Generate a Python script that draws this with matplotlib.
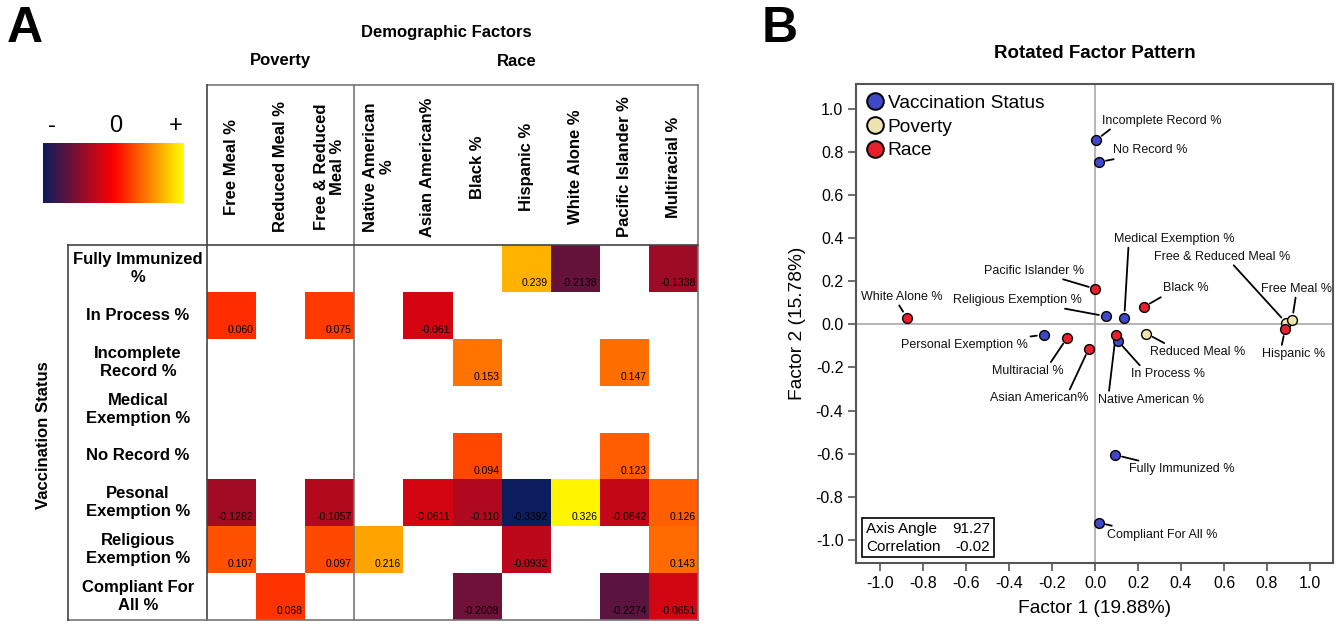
import numpy as np
import matplotlib
matplotlib.use('Agg')
import matplotlib.pyplot as plt
from matplotlib.colors import LinearSegmentedColormap
from matplotlib.lines import Line2D
from matplotlib.patches import Rectangle

plt.rcParams['font.family'] = ['Liberation Sans', 'DejaVu Sans']

# ---------------- data: panel A ----------------
columns = ['Free Meal %', 'Reduced Meal %', 'Free & Reduced\nMeal %',
           'Native American\n%', 'Asian American%', 'Black %', 'Hispanic %',
           'White Alone %', 'Pacific Islander %', 'Multiracial %']
rows = ['Fully Immunized\n%', 'In Process %', 'Incomplete\nRecord %',
        'Medical\nExemption %', 'No Record %', 'Pesonal\nExemption %',
        'Religious\nExemption %', 'Compliant For\nAll %']
cell_text = [
    [None, None, None, None, None, None, '0.239', '-0.2138', None, '-0.1338'],
    ['0.060', None, '0.075', None, '-0.061', None, None, None, None, None],
    [None, None, None, None, None, '0.153', None, None, '0.147', None],
    [None, None, None, None, None, None, None, None, None, None],
    [None, None, None, None, None, '0.094', None, None, '0.123', None],
    ['-0.1282', None, '-0.1057', None, '-0.0611', '-0.110', '-0.3392', '0.326', '-0.0842', '0.126'],
    ['0.107', None, '0.097', '0.216', None, None, '-0.0932', None, None, '0.143'],
    [None, '0.068', None, None, None, '-0.2008', None, None, '-0.2274', '-0.0651'],
]

# ---------------- data: panel B ----------------
names = ['Incomplete Record %', 'No Record %', 'Medical Exemption %',
         'Free & Reduced Meal %', 'Free Meal %', 'Pacific Islander %', 'Black %',
         'White Alone %', 'Religious Exemption %', 'Personal Exemption %',
         'Reduced Meal %', 'Hispanic %', 'Multiracial %', 'In Process %',
         'Asian American%', 'Native American %', 'Fully Immunized %',
         'Compliant For All %']
factor1 = [0.005, 0.019, 0.136, 0.888, 0.917, 0.002, 0.227, -0.876, 0.050,
           -0.239, 0.239, 0.884, -0.130, 0.105, -0.029, 0.096, 0.094, 0.019]
factor2 = [0.854, 0.752, 0.031, 0.008, 0.022, 0.164, 0.080, 0.031, 0.037,
           -0.049, -0.043, -0.023, -0.063, -0.076, -0.113, -0.052, -0.606, -0.920]
groups = ['Vaccination Status', 'Vaccination Status', 'Vaccination Status',
          'Poverty', 'Poverty', 'Race', 'Race', 'Race', 'Vaccination Status',
          'Vaccination Status', 'Poverty', 'Race', 'Race', 'Vaccination Status',
          'Race', 'Race', 'Vaccination Status', 'Vaccination Status']
group_order = ['Vaccination Status', 'Poverty', 'Race']
group_colors = {'Vaccination Status': '#4048c8', 'Poverty': '#efe4b0', 'Race': '#e8202a'}
# label placement (layout): text position in data units and leader anchor on the text
label_pos = [(0.309, 0.944), (0.256, 0.806), (0.369, 0.396), (0.589, 0.314),
             (0.935, 0.164), (-0.285, 0.249), (0.424, 0.166), (-0.900, 0.128),
             (-0.359, 0.113), (-0.608, -0.097), (0.479, -0.128), (0.925, -0.136),
             (-0.314, -0.216), (0.340, -0.231), (-0.261, -0.343), (0.261, -0.349),
             (0.402, -0.673), (0.311, -0.975)]
label_rel = [(0.1, 0), (0.2, 0), (0.12, 0), (0.57, 0), (0.5, 0), (0.7, 0), (0.05, 0),
             (0.45, 0), (0.75, 0), (0.85, 1), (0.2, 1), (0.3, 1), (0.8, 1), (0.15, 1),
             (0.8, 1), (0.1, 1), (0.2, 1), (0.15, 1)]
axis_angle = '91.27'
correlation = '-0.02'

# ---------------- figure ----------------
W, H = 1339, 626
fig = plt.figure(figsize=(W / 100, H / 100), dpi=100)


def P(x, y):
    return (x / W, 1 - y / H)


def fline(x0, y0, x1, y1, color='#444444', lw=1.2):
    (a, b), (c, d) = P(x0, y0), P(x1, y1)
    fig.add_artist(Line2D([a, c], [b, d], color=color, lw=lw, transform=fig.transFigure))


cmap = LinearSegmentedColormap.from_list('bry', ['#0b1d5e', '#ff0000', '#ffff00'])
vmin, vmax = -0.34, 0.34

# ---------------- panel A ----------------
fig.text(*P(25, 29), 'A', fontsize=36, fontweight='bold', ha='center', va='center')
fig.text(*P(446, 32), 'Demographic Factors', fontsize=12, fontweight='bold', ha='center', va='center')
fig.text(*P(280, 61), 'Poverty', fontsize=12, fontweight='bold', ha='center', va='center')
fig.text(*P(517, 61), 'Race', fontsize=12, fontweight='bold', ha='center', va='center')

x0, x1, ytop, y0, y1 = 207, 698, 85, 245, 620
ncol, nrow = len(columns), len(rows)
cw, ch = (x1 - x0) / ncol, (y1 - y0) / nrow

axA = fig.add_axes([x0 / W, (H - y1) / H, (x1 - x0) / W, (y1 - y0) / H])
vals = np.array([[np.nan if v is None else float(v) for v in r] for r in cell_text])
axA.pcolormesh(np.ma.masked_invalid(vals), cmap=cmap, vmin=vmin, vmax=vmax)
for i, r in enumerate(cell_text):
    for j, s in enumerate(r):
        if s is not None:
            axA.text(j + 0.95, i + 0.92, s, ha='right', va='bottom', fontsize=7.5)
axA.set_xlim(0, ncol)
axA.set_ylim(nrow, 0)
axA.axis('off')

for j, c in enumerate(columns):
    fig.text(*P(x0 + (j + 0.5) * cw, 167), c, rotation=90, ha='center', va='center',
             fontsize=12, fontweight='bold', multialignment='center', linespacing=1.1)
for i, r in enumerate(rows):
    fig.text(*P(138, y0 + (i + 0.5) * ch), r, ha='center', va='center',
             fontsize=12, fontweight='bold', multialignment='center', linespacing=1.25)
fig.text(*P(44, 435), 'Vaccination Status', rotation=90, ha='center', va='center',
         fontsize=12, fontweight='bold')

fline(x0, ytop, x1, ytop, color='#777777')
fline(x0, ytop, x0, y1)
fline(x1, ytop, x1, y1, color='#777777')
fline(x0 + 3 * cw, ytop, x0 + 3 * cw, y1, color='#777777')
fline(68, y0, x1, y0)
fline(68, y1, x1, y1, color='#777777')
fline(68, y0, 68, y1)

# colorbar
axC = fig.add_axes([43 / W, (H - 203) / H, 141 / W, 60 / H])
axC.imshow(np.linspace(0, 1, 256)[None, :], cmap=cmap, aspect='auto')
axC.axis('off')
fig.text(*P(52, 126), '-', fontsize=17, ha='center', va='center')
fig.text(*P(116, 126), '0', fontsize=17, ha='center', va='center')
fig.text(*P(176, 126), '+', fontsize=17, ha='center', va='center')

# ---------------- panel B ----------------
fig.text(*P(780, 29), 'B', fontsize=36, fontweight='bold', ha='center', va='center')
fig.text(*P(1095, 53), 'Rotated Factor Pattern', fontsize=13.5, fontweight='bold',
         ha='center', va='center')

axB = fig.add_axes([856 / W, (H - 563) / H, 477 / W, 479 / H])
axB.axhline(0, color='#a8a8a8', lw=1.2, zorder=0)
axB.axvline(0, color='#a8a8a8', lw=1.2, zorder=0)

for g in group_order:
    idx = [k for k, gg in enumerate(groups) if gg == g]
    axB.scatter([factor1[k] for k in idx], [factor2[k] for k in idx], s=50,
                c=group_colors[g], edgecolors='black', linewidths=1.0, zorder=3)

for k, nm in enumerate(names):
    axB.annotate(nm, xy=(factor1[k], factor2[k]), xytext=label_pos[k],
                 ha='center', va='center', fontsize=9, color='#111111',
                 arrowprops=dict(arrowstyle='-', color='black', lw=1.3,
                                 shrinkA=0, shrinkB=5, relpos=label_rel[k]),
                 zorder=2, annotation_clip=False)

handles = [Line2D([], [], marker='o', ls='none', markersize=12, mfc=group_colors[g],
                  mec='black', mew=1.4) for g in group_order]
axB.legend(handles, group_order, loc='upper left', frameon=False, fontsize=13.8,
           handletextpad=0.2, labelspacing=0.33, borderaxespad=0.1, handlelength=0.9,
           borderpad=0.45)

ticks = np.round(np.linspace(-1, 1, 11), 1)
tlabels = [('%.1f' % t).replace('-0.0', '0.0') for t in ticks]
axB.set_xticks(ticks)
axB.set_xticklabels(tlabels)
axB.set_yticks(ticks)
axB.set_yticklabels(tlabels)
axB.set_xlim(-1.112, 1.107)
axB.set_ylim(-1.107, 1.114)
axB.tick_params(direction='out', length=6, width=1.2, color='#555555', labelsize=11.5, pad=3)
for sp in axB.spines.values():
    sp.set_color('#555555')
    sp.set_linewidth(1.5)
axB.set_xlabel('Factor 1 (19.88%)', fontsize=13.8, labelpad=7)
axB.set_ylabel('Factor 2 (15.78%)', fontsize=13.8, labelpad=7)

axB.add_patch(Rectangle((0.0126, 0.0125), 0.276, 0.082, transform=axB.transAxes,
                        facecolor='white', edgecolor='black', lw=1.2, zorder=4))
axB.text(0.021, 0.072, 'Axis Angle', transform=axB.transAxes, fontsize=11, va='center', zorder=5)
axB.text(0.281, 0.072, axis_angle, transform=axB.transAxes, fontsize=11, va='center', ha='right', zorder=5)
axB.text(0.021, 0.034, 'Correlation', transform=axB.transAxes, fontsize=11, va='center', zorder=5)
axB.text(0.281, 0.034, correlation, transform=axB.transAxes, fontsize=11, va='center', ha='right', zorder=5)

fig.savefig('out.png', dpi=100)
